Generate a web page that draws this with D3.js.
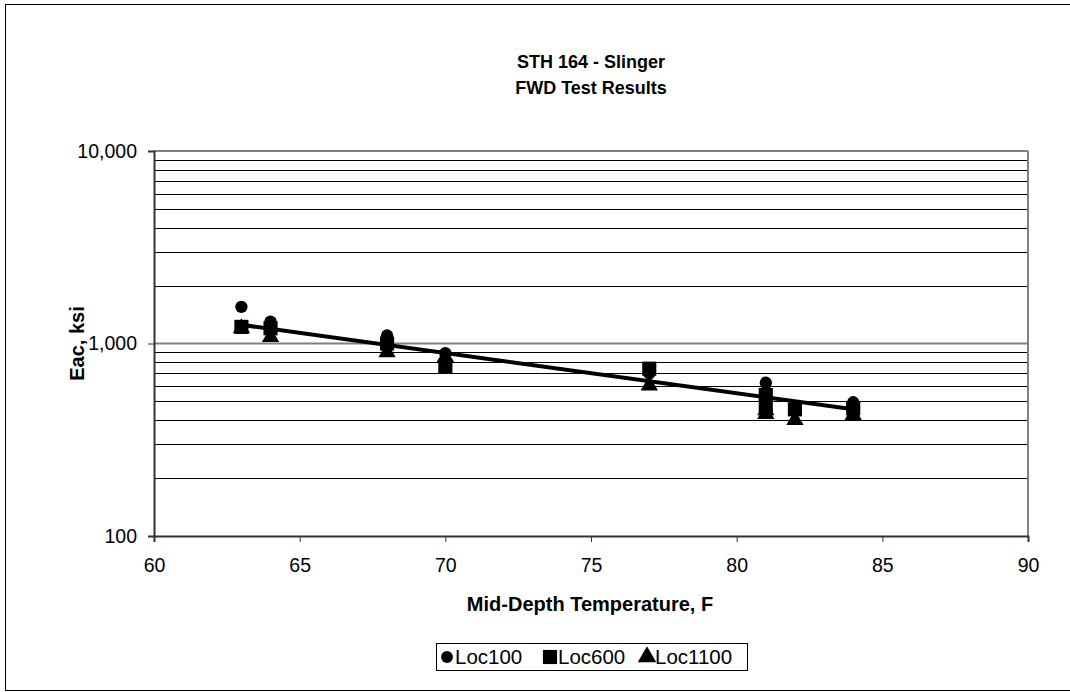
<!DOCTYPE html>
<html><head><meta charset="utf-8">
<script src="https://cdn.jsdelivr.net/npm/d3@7"></script>
<style>body{margin:0;background:#fff}svg{display:block}text{font-family:Arial,"Liberation Sans",sans-serif;fill:#000}</style>
</head><body><svg id="c" width="1070" height="692"></svg>
<script>
const titleLines = ["STH 164 - Slinger", "FWD Test Results"];
const xTitle = "Mid-Depth Temperature, F";
const yTitle = "Eac, ksi";
const xTicks = [60, 65, 70, 75, 80, 85, 90];
const yTicks = [100, 1000, 10000];
const loc100X = [63, 64, 68, 70, 77, 81, 81, 81, 81, 84];
const loc100Y = [1550, 1300, 1100, 890, 700, 625, 560, 510, 480, 495];
const loc600X = [63, 64, 68, 70, 77, 81, 81, 82, 84];
const loc600Y = [1220, 1200, 1000, 760, 740, 540, 470, 455, 460];
const loc1100X = [63, 64, 68, 70, 77, 81, 81, 82, 84];
const loc1100Y = [1200, 1080, 900, 850, 605, 450, 430, 400, 425];
const trendX = [63, 84];
const trendY = [1250, 455];
const seriesNames = ["Loc100", "Loc600", "Loc1100"];

const svg = d3.select("#c");
const L = 154, R = 1028, T = 151, B = 536;
const x = d3.scaleLinear().domain([60, 90]).range([L, R]);
const y = d3.scaleLog().domain([100, 10000]).range([B, T]);

svg.append("rect").attr("x", 5.5).attr("y", 4.5).attr("width", 1070).attr("height", 686)
  .attr("fill", "none").attr("stroke", "#000").attr("stroke-width", 1);

// minor gridlines
const minor = [];
[100, 1000].forEach(d => { for (let k = 2; k <= 9; k++) minor.push(d * k); });
svg.append("g").selectAll("line").data(minor).join("line")
  .attr("x1", L).attr("x2", R).attr("y1", d => Math.round(y(d)) + 0.5).attr("y2", d => Math.round(y(d)) + 0.5)
  .attr("stroke", "#000").attr("stroke-width", 1);
// major gridlines
svg.append("g").selectAll("line").data([1000, 10000]).join("line")
  .attr("x1", L).attr("x2", R).attr("y1", d => y(d)).attr("y2", d => y(d))
  .attr("stroke", "#808080").attr("stroke-width", 2);
// right border
svg.append("line").attr("x1", R).attr("x2", R).attr("y1", T).attr("y2", B)
  .attr("stroke", "#808080").attr("stroke-width", 2);

// axes
const xAxis = d3.axisBottom(x).tickValues(xTicks).tickSize(6).tickPadding(16).tickFormat(d3.format("d"));
const gx = svg.append("g").attr("transform", `translate(0,${B})`).call(xAxis);
gx.select(".domain").attr("stroke", "#333").attr("stroke-width", 2);
gx.selectAll(".tick line").attr("stroke", "#333");
gx.selectAll("text").style("font-size", "19.5px");

const yAxis = d3.axisLeft(y).tickValues(yTicks).tickSize(6).tickPadding(11).tickFormat(d3.format(","));
const gy = svg.append("g").attr("transform", `translate(${L},0)`).call(yAxis);
gy.select(".domain").attr("stroke", "#333").attr("stroke-width", 2);
gy.selectAll(".tick line").attr("stroke", "#333");
gy.selectAll("text").style("font-size", "19.5px");

// markers
const shapes = [d3.symbolCircle, d3.symbolSquare, d3.symbolTriangle];
const sizes = [120, 200, 130];
const sets = [[loc100X, loc100Y], [loc600X, loc600Y], [loc1100X, loc1100Y]];
sets.forEach((s, i) => {
  const pts = s[0].map((v, j) => [v, s[1][j]]);
  svg.append("g").selectAll("path").data(pts).join("path")
    .attr("transform", d => `translate(${x(d[0])},${y(d[1])})`)
    .attr("d", d3.symbol().type(shapes[i]).size(sizes[i])).attr("fill", "#000");
});

// trendline
const line = d3.line().x(d => x(d[0])).y(d => y(d[1]));
svg.append("path").datum(trendX.map((v, j) => [v, trendY[j]]))
  .attr("d", line).attr("stroke", "#000").attr("stroke-width", 4).attr("fill", "none");

// titles
svg.append("g").selectAll("text").data(titleLines).join("text")
  .attr("x", 591).attr("y", (d, i) => 68 + i * 26).attr("text-anchor", "middle")
  .style("font-size", "18px").style("font-weight", "bold").text(d => d);
svg.append("text").attr("x", 590).attr("y", 611).attr("text-anchor", "middle")
  .style("font-size", "20px").style("font-weight", "bold").text(xTitle);
svg.append("text").attr("transform", `translate(84,${(T + B) / 2}) rotate(-90)`).attr("text-anchor", "middle")
  .style("font-size", "20px").style("font-weight", "bold").text(yTitle);

// legend
svg.append("rect").attr("x", 436.5).attr("y", 643.5).attr("width", 311).attr("height", 27)
  .attr("fill", "#fff").attr("stroke", "#000");
const legX = [447, 550, 647];
seriesNames.forEach((n, i) => {
  svg.append("path").attr("transform", `translate(${legX[i]},${657})`)
    .attr("d", d3.symbol().type(shapes[i]).size([110, 200, 150][i])).attr("fill", "#000");
  svg.append("text").attr("x", legX[i] + 8).attr("y", 664).style("font-size", "20.5px").text(n);
});
</script></body></html>
